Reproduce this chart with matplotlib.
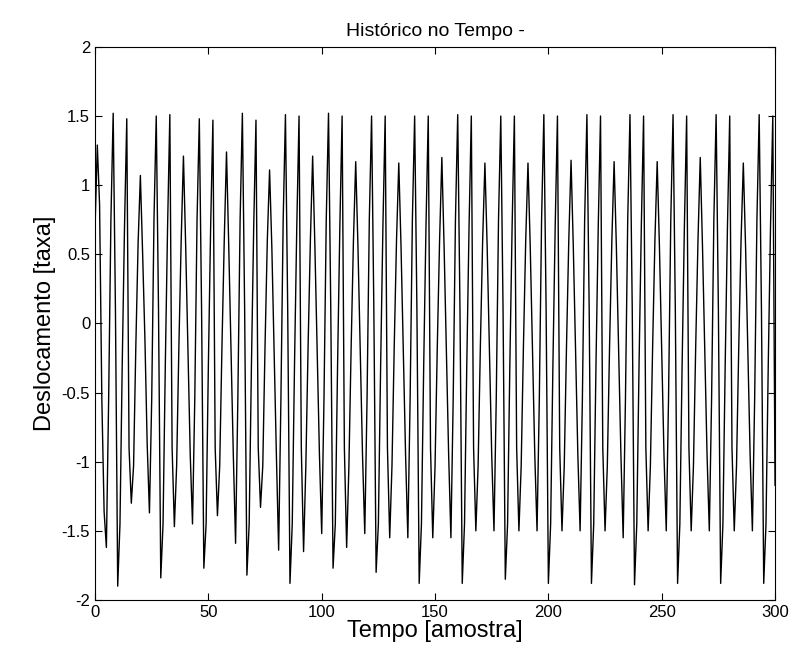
import matplotlib
matplotlib.use("Agg")
import matplotlib.pyplot as plt

plt.rcParams["font.family"] = ["Liberation Sans", "DejaVu Sans"]

# sample values, one row per repeating stretch of 19 samples
rows = [
    [0.69, 1.29, 0.86, -0.55, -1.36, -1.62, -0.55, 0.75, 1.52, 0.10, -1.90, -1.45, -0.29, 0.70, 1.48, -0.90, -1.30, -1.03, -0.16],
    [0.58, 1.07, 0.50, -0.11, -0.87, -1.37, -0.55, 0.75, 1.50, 0.10, -1.84, -1.45, -0.30, 0.70, 1.51, -0.90, -1.47, -1.03, -0.16],
    [0.60, 1.21, 0.55, -0.20, -0.95, -1.45, -0.55, 0.75, 1.48, 0.10, -1.77, -1.45, -0.30, 0.70, 1.47, -0.90, -1.39, -1.03, -0.16],
    [0.60, 1.24, 0.55, -0.20, -0.95, -1.59, -0.55, 0.75, 1.52, 0.10, -1.82, -1.45, -0.30, 0.70, 1.47, -0.90, -1.33, -1.03, -0.16],
    [0.60, 1.11, 0.55, -0.20, -0.95, -1.64, -0.55, 0.75, 1.51, 0.10, -1.88, -1.45, -0.30, 0.70, 1.50, -0.90, -1.65, -1.03, -0.16],
    [0.60, 1.21, 0.55, -0.20, -0.95, -1.52, -0.55, 0.75, 1.52, 0.10, -1.77, -1.45, -0.30, 0.70, 1.50, -0.90, -1.62, -1.03, -0.16],
    [0.60, 1.17, 0.55, -0.20, -0.95, -1.52, -0.55, 0.75, 1.50, 0.10, -1.80, -1.45, -0.30, 0.70, 1.50, -0.90, -1.55, -1.03, -0.16],
    [0.60, 1.16, 0.55, -0.20, -0.95, -1.55, -0.55, 0.75, 1.50, 0.10, -1.88, -1.45, -0.30, 0.70, 1.50, -0.90, -1.55, -1.03, -0.16],
    [0.60, 1.20, 0.55, -0.20, -0.95, -1.55, -0.55, 0.75, 1.51, 0.10, -1.88, -1.45, -0.30, 0.70, 1.50, -0.90, -1.50, -1.03, -0.16],
    [0.60, 1.16, 0.55, -0.20, -0.95, -1.50, -0.55, 0.75, 1.50, 0.10, -1.85, -1.45, -0.30, 0.70, 1.50, -0.90, -1.50, -1.03, -0.16],
    [0.60, 1.16, 0.55, -0.20, -0.95, -1.50, -0.55, 0.75, 1.51, 0.10, -1.88, -1.45, -0.30, 0.70, 1.50, -0.90, -1.50, -1.03, -0.16],
    [0.60, 1.18, 0.55, -0.20, -0.95, -1.50, -0.55, 0.75, 1.51, 0.10, -1.88, -1.45, -0.30, 0.70, 1.50, -0.90, -1.50, -1.03, -0.16],
    [0.60, 1.17, 0.55, -0.20, -0.95, -1.55, -0.55, 0.75, 1.51, 0.10, -1.89, -1.45, -0.30, 0.70, 1.50, -0.90, -1.50, -1.03, -0.16],
    [0.60, 1.17, 0.55, -0.20, -0.95, -1.50, -0.55, 0.75, 1.51, 0.10, -1.88, -1.45, -0.30, 0.70, 1.50, -0.90, -1.50, -1.03, -0.16],
    [0.60, 1.20, 0.55, -0.20, -0.95, -1.50, -0.55, 0.75, 1.51, 0.10, -1.88, -1.45, -0.30, 0.70, 1.50, -0.90, -1.50, -1.03, -0.16],
    [0.60, 1.16, 0.55, -0.20, -0.95, -1.50, -0.55, 0.75, 1.51, 0.10, -1.88, -1.45, -0.30, 0.70, 1.50, -1.17],
]

deslocamento = [v for r in rows for v in r]
amostras = list(range(len(deslocamento)))

x_ticks = [0, 50, 100, 150, 200, 250, 300]
y_ticks = [-2, -1.5, -1, -0.5, 0, 0.5, 1, 1.5, 2]
y_labels = ["-2", "-1.5", "-1", "-0.5", "0", "0.5", "1", "1.5", "2"]

fig = plt.figure(figsize=(7.92, 6.53), dpi=100)
ax = fig.add_axes([0.12, 0.0812, 0.8586, 0.847])
ax.plot(amostras, deslocamento, color="black", linewidth=1.0)

ax.set_xlim(0, 300)
ax.set_ylim(-2, 2)
ax.set_xticks(x_ticks)
ax.set_yticks(y_ticks)
ax.set_yticklabels(y_labels)
ax.tick_params(direction="in", top=True, right=True, labelsize=12, length=5, width=0.8)
for s in ax.spines.values():
    s.set_linewidth(0.8)

ax.set_title("Histórico no Tempo -", fontsize=14, pad=8)
ax.set_xlabel("Tempo [amostra]", fontsize=17, labelpad=0)
ax.set_ylabel("Deslocamento [taxa]", fontsize=17, labelpad=4)

fig.savefig("out.png", dpi=100)
